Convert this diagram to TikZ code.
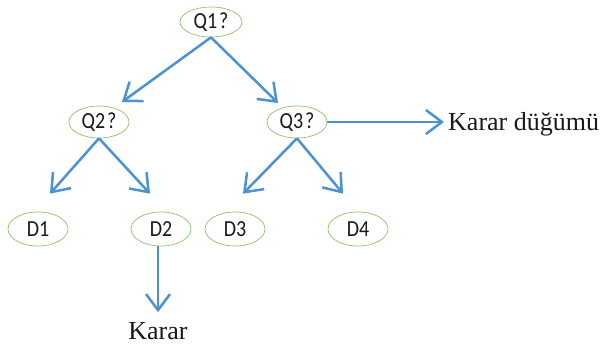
\documentclass[tikz,border=0pt]{standalone}
\usepackage{fontspec}
\setmainfont{Liberation Serif}
\newfontfamily\calfont[FakeStretch=0.87]{Carlito}
\usetikzlibrary{shapes.geometric,arrows.meta,calc}
\definecolor{qgreen}{HTML}{8CC46A}
\definecolor{cblue}{HTML}{4A92D2}
\begin{document}
\begin{tikzpicture}[x=1pt,y=-1pt,
  qnode/.style={ellipse,draw=qgreen,line width=0.7pt,minimum width=60pt,minimum height=32pt,inner sep=0pt,
    font=\calfont\fontsize{23}{24}\selectfont,text=black!90},
  conn/.style={draw=cblue,line width=2.5pt,-{Straight Barb[length=16pt,width=24pt,line width=2.5pt]}},
  lbl/.style={font=\fontsize{26}{28}\selectfont,text=black!90,inner sep=0pt}]
\useasboundingbox (0,0) rectangle (605,348);
\node[qnode,minimum width=62pt,minimum height=30pt] (Q1) at (211,22) {Q1\kern2pt?};
\node[qnode] (Q2) at (99,122) {Q2\kern2pt?};
\node[qnode] (Q3) at (297,122) {Q3\kern2pt?};
\node[qnode,minimum height=34pt] (D1) at (38,229) {D1};
\node[qnode,minimum height=34pt] (D2) at (161,229) {D2};
\node[qnode,minimum height=34pt] (D3) at (235,229) {D3};
\node[qnode,minimum height=34pt] (D4) at (358,229) {D4};
\node[lbl] (K) at (158,331) {Karar};
\node[lbl,anchor=west] (KD) at (448,124) {Karar düğümü};
\coordinate (Q1b) at ($(Q1.south)+(0,0)$);
\draw[conn] (Q1b) -- ($(Q2.center)+(23,-20)$);
\draw[conn] (Q1b) -- ($(Q3.center)+(-19,-19)$);
\draw[conn] (Q2.south) -- ($(D1.north)+(12,-18)$);
\draw[conn] (Q2.south) -- ($(D2.north)+(-11,-18)$);
\draw[conn] (Q3.south) -- ($(D3.north)+(8,-18)$);
\draw[conn] (Q3.south) -- ($(D4.north)+(-15,-18)$);
\draw[conn] ($(D2.south)+(-3,0)$) -- ($(K.north)+(0,-10)$);
\draw[conn] (Q3.east) -- ($(KD.west)+(-4,-2)$);
\end{tikzpicture}
\end{document}
